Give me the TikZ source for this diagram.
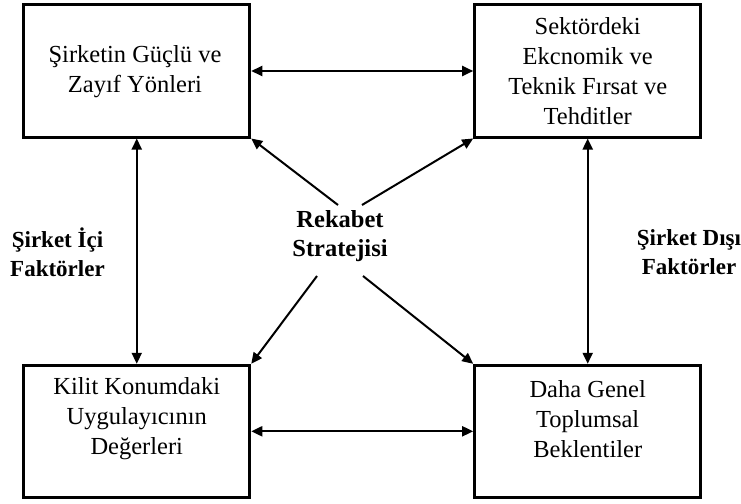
\documentclass[tikz,border=0pt]{standalone}
\usepackage{fontspec}
\setmainfont{Liberation Serif}
\usetikzlibrary{arrows.meta}
\begin{document}
\begin{tikzpicture}[x=1pt,y=-1pt,
  factorbox/.style={draw,line width=3pt,minimum width=226pt,minimum height=132pt,inner sep=0pt},
  boxtext/.style={align=center,font=\fontsize{24.5}{30}\selectfont,inner sep=0pt},
  sidelabel/.style={align=center,font=\bfseries\fontsize{23}{29}\selectfont,inner sep=0pt},
  link/.style={line width=2pt,{Triangle[length=11pt,width=10pt]}-{Triangle[length=11pt,width=10pt]}},
  push/.style={line width=2pt,-{Triangle[length=11pt,width=10pt]}}]
\useasboundingbox (0,0) rectangle (741,503);

% the four factor boxes
\node[factorbox] (tl) at (136.75,71) {};
\node[factorbox] (tr) at (587.7,71) {};
\node[factorbox] (bl) at (136.75,431.3) {};
\node[factorbox] (br) at (587.7,431.3) {};

% box captions
\node[boxtext] (tlt) at (135,72) {Şirketin Güçlü ve\\Zayıf Yönleri};
\node[boxtext] (trt) at (587.7,71) {Sektördeki\\Ekcnomik ve\\Teknik Fırsat ve\\Tehditler};
\node[boxtext] (blt) at (136.75,419) {Kilit Konumdaki\\Uygulayıcının\\Değerleri};
\node[boxtext] (brt) at (587.7,419) {Daha Genel\\Toplumsal\\Beklentiler};

% central strategy label
\node[align=center,font=\bfseries\fontsize{24.5}{29}\selectfont,inner sep=0pt] (strat) at (340,236) {Rekabet\\Stratejisi};

% side labels
\node[sidelabel] (inner) at (57.5,252) {Şirket İçi\\Faktörler};
\node[sidelabel] (outer) at (689,252) {Şirket Dışı\\Faktörler};

% two-way links between neighbouring boxes
\draw[link] (tl) -- (tr);
\draw[link] (bl) -- (br);
\draw[link] (tl) -- (bl);
\draw[link] (tr) -- (br);

% arrows from the strategy towards each corner
\coordinate (s1) at (338,205);
\coordinate (s2) at (362,205);
\coordinate (s3) at (317,276);
\coordinate (s4) at (363,276);
\draw[push] (s1) -- (tl.south east);
\draw[push] (s2) -- (tr.south west);
\draw[push] (s3) -- (bl.north east);
\draw[push] (s4) -- (br.north west);
\end{tikzpicture}
\end{document}
